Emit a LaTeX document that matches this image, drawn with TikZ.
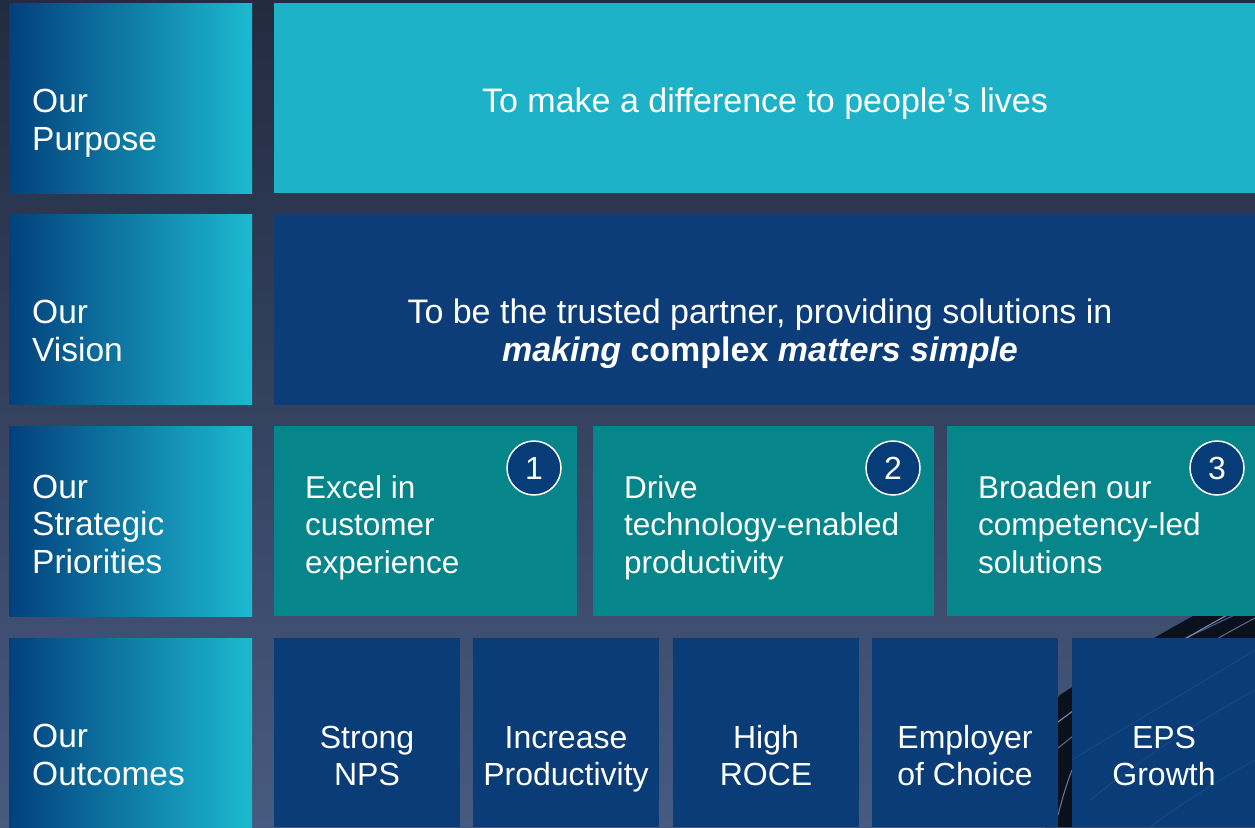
\documentclass[tikz,border=0pt]{standalone}
\usepackage{fontspec}
\setmainfont{Liberation Sans}
\definecolor{bgtop}{HTML}{222B40}
\definecolor{bgbot}{HTML}{475A80}
\definecolor{purp}{HTML}{1DB2C7}
\definecolor{vis}{HTML}{0C3D78}
\definecolor{tealc}{HTML}{06858B}
\definecolor{outc}{HTML}{0A3C78}
\definecolor{gl}{HTML}{02407C}
\definecolor{gr}{HTML}{1CB9D0}
\definecolor{circ}{HTML}{063C78}
\definecolor{streak}{HTML}{0B111C}
\definecolor{streakline}{HTML}{6F8DB8}
\tikzset{
  box/.style={anchor=north west, inner sep=0pt, outer sep=0pt},
  labbox/.style={box, left color=gl, right color=gr, minimum width=243pt, minimum height=190pt},
  labtxt/.style={anchor=base west, align=left, text=white, inner sep=0pt, font=\fontsize{33.5}{37.5}\selectfont},
  pritxt/.style={anchor=base west, align=left, text=white, inner sep=0pt, font=\fontsize{31.5}{37.5}\selectfont},
  ctxt/.style={anchor=base, align=center, text=white, inner sep=0pt, font=\fontsize{34}{37.5}\selectfont},
  otxt/.style={anchor=base, align=center, text=white, inner sep=0pt, font=\fontsize{32}{37}\selectfont},
  numc/.style={circle, draw=white, line width=1.5pt, fill=circ, minimum size=54pt, inner sep=0pt, text=white, font=\fontsize{32}{32}\selectfont},
  sline/.style={draw=streakline, line width=1.1pt},
  faint/.style={draw=streakline, line width=1pt, opacity=0.15}
}
\begin{document}
\begin{tikzpicture}[x=1pt,y=-1pt]
\useasboundingbox (0,0) rectangle (1255,827);
\fill[top color=bgtop, bottom color=bgbot] (0,0) rectangle (1255,827);
% background streak
\fill[streak] (1255,582) .. controls (1170,628) and (1100,668) .. (1060,695)
   -- (1045,710) -- (1045,827) -- (1255,827) -- cycle;
\draw[sline] (1255,600) .. controls (1170,645) and (1100,690) .. (1058,722);
\draw[sline, opacity=0.7] (1255,618) .. controls (1175,660) and (1105,710) .. (1058,748);
\draw[sline, opacity=0.6] (1255,605) .. controls (1200,632) and (1180,640) .. (1160,650);
\draw[sline, opacity=0.8] (1072,770) .. controls (1066,785) and (1062,800) .. (1058,815);
% labels
\node[labbox] (lp) at (9,3) {};
\node[labbox] (lv) at (9,214) {};
\node[labbox] (ls) at (9,426) {};
\node[labbox, minimum height=189pt] (lo) at (9,638) {};
\node[labtxt] (lpt) at (32,150) {Our\\Purpose};
\node[labtxt] (lvt) at (32,361) {Our\\Vision};
\node[labtxt] (lst) at (32,573) {Our\\Strategic\\Priorities};
\node[labtxt] (lot) at (32,785) {Our\\Outcomes};
% purpose
\node[box, fill=purp, minimum width=981pt, minimum height=190pt] (pb) at (274,3) {};
\node[ctxt] (pt) at (765,112) {To make a difference to people’s lives};
% vision
\node[box, fill=vis, minimum width=981pt, minimum height=191pt] (vb) at (274,214) {};
\node[ctxt] (vt) at (760,361) {To be the trusted partner, providing solutions in\\\textbf{\textit{making} complex \textit{matters simple}}};
% priorities
\node[box, fill=tealc, minimum width=303pt, minimum height=190pt] (s1) at (274,426) {};
\node[box, fill=tealc, minimum width=341pt, minimum height=190pt] (s2) at (593,426) {};
\node[box, fill=tealc, minimum width=308pt, minimum height=190pt] (s3) at (947,426) {};
\node[pritxt] (s1t) at (305,573) {Excel in\\customer\\experience};
\node[pritxt] (s2t) at (624,573) {Drive\\technology-enabled\\productivity};
\node[pritxt] (s3t) at (978,573) {Broaden our\\competency-led\\solutions};
\node[numc] (n1) at (534,468) {1};
\node[numc] (n2) at (893,468) {2};
\node[numc] (n3) at (1217,468) {3};
% outcomes
\node[box, fill=outc, minimum width=186pt, minimum height=189pt] (o1) at (274,638) {};
\node[box, fill=outc, minimum width=186pt, minimum height=189pt] (o2) at (473,638) {};
\node[box, fill=outc, minimum width=186pt, minimum height=189pt] (o3) at (673,638) {};
\node[box, fill=outc, minimum width=186pt, minimum height=189pt] (o4) at (872,638) {};
\node[box, fill=outc, minimum width=183pt, minimum height=189pt] (o5) at (1072,638) {};
\draw[faint] (1255,650) .. controls (1190,690) and (1120,730) .. (1072,760);
\draw[faint] (1255,690) .. controls (1200,720) and (1140,760) .. (1090,800);
\draw[faint] (1255,760) .. controls (1210,785) and (1180,805) .. (1150,827);
\node[otxt] (o1t) at (367,785) {Strong\\NPS};
\node[otxt] (o2t) at (566,785) {Increase\\Productivity};
\node[otxt] (o3t) at (766,785) {High\\ROCE};
\node[otxt] (o4t) at (965,785) {Employer\\of Choice};
\node[otxt] (o5t) at (1164,785) {EPS\\Growth};
\end{tikzpicture}
\end{document}
